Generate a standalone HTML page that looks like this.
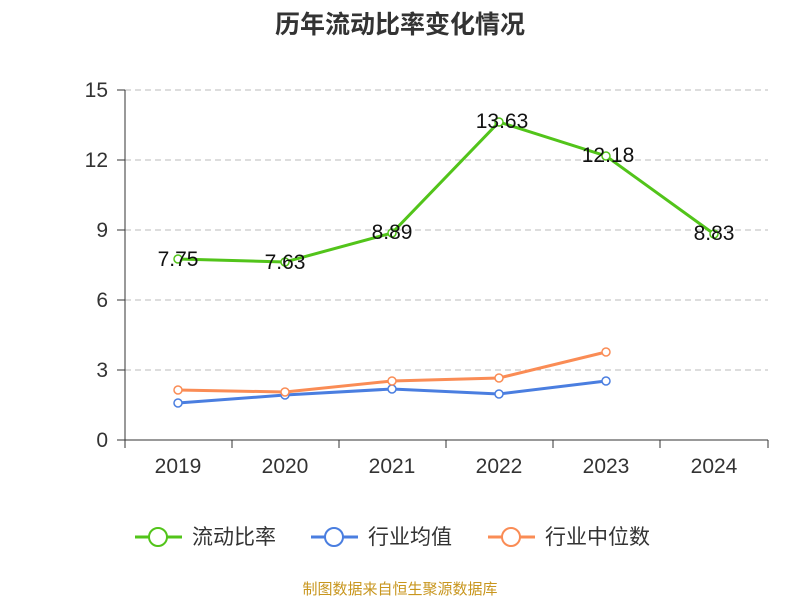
<!DOCTYPE html>
<html><head><meta charset="utf-8"><style>
body{margin:0;background:#fff;}
svg{display:block;font-family:"Liberation Sans","Noto Sans CJK SC",sans-serif;}
</style></head><body>
<svg width="800" height="600" viewBox="0 0 800 600">
<text x="400" y="33" text-anchor="middle" font-size="25" font-weight="bold" fill="#333">历年流动比率变化情况</text>
<g stroke="#bbb" stroke-dasharray="6,4" stroke-width="1">
<line x1="125" y1="90" x2="768" y2="90"/><line x1="125" y1="160" x2="768" y2="160"/>
<line x1="125" y1="230" x2="768" y2="230"/><line x1="125" y1="300" x2="768" y2="300"/>
<line x1="125" y1="370" x2="768" y2="370"/></g>
<g stroke="#333" stroke-width="1">
<line x1="125" y1="90" x2="125" y2="440"/><line x1="125" y1="440" x2="768" y2="440"/>
<line x1="117" y1="90" x2="125" y2="90"/><line x1="117" y1="160" x2="125" y2="160"/><line x1="117" y1="230" x2="125" y2="230"/><line x1="117" y1="300" x2="125" y2="300"/><line x1="117" y1="370" x2="125" y2="370"/><line x1="117" y1="440" x2="125" y2="440"/>
<line x1="125" y1="440" x2="125" y2="448"/><line x1="232" y1="440" x2="232" y2="448"/><line x1="339" y1="440" x2="339" y2="448"/><line x1="446" y1="440" x2="446" y2="448"/><line x1="553" y1="440" x2="553" y2="448"/><line x1="660" y1="440" x2="660" y2="448"/><line x1="768" y1="440" x2="768" y2="448"/>
</g>
<g font-size="21" fill="#333" text-anchor="end">
<text x="108" y="97">15</text><text x="108" y="167">12</text><text x="108" y="237">9</text><text x="108" y="307">6</text><text x="108" y="377">3</text><text x="108" y="447">0</text></g>
<g font-size="21" fill="#333" text-anchor="middle">
<text x="178" y="473">2019</text><text x="285" y="473">2020</text><text x="392" y="473">2021</text><text x="499" y="473">2022</text><text x="606" y="473">2023</text><text x="714" y="473">2024</text></g>
<polyline fill="none" stroke="#52c41a" stroke-width="3" points="178,259 285,262 392,233 499,122 606,156 714,234"/>
<polyline fill="none" stroke="#4a7ee0" stroke-width="3" points="178,403 285,395 392,389 499,394 606,381"/>
<polyline fill="none" stroke="#fa8c55" stroke-width="3" points="178,390 285,392 392,381 499,378 606,352"/>
<g fill="#fff" stroke-width="1.5">
<g stroke="#52c41a"><circle cx="178" cy="259" r="4"/><circle cx="285" cy="262" r="4"/><circle cx="392" cy="233" r="4"/><circle cx="499" cy="122" r="4"/><circle cx="606" cy="156" r="4"/><circle cx="714" cy="234" r="4"/></g>
<g stroke="#4a7ee0"><circle cx="178" cy="403" r="4"/><circle cx="285" cy="395" r="4"/><circle cx="392" cy="389" r="4"/><circle cx="499" cy="394" r="4"/><circle cx="606" cy="381" r="4"/></g>
<g stroke="#fa8c55"><circle cx="178" cy="390" r="4"/><circle cx="285" cy="392" r="4"/><circle cx="392" cy="381" r="4"/><circle cx="499" cy="378" r="4"/><circle cx="606" cy="352" r="4"/></g>
</g>
<g font-size="21" fill="#111" text-anchor="middle">
<text x="178" y="266">7.75</text><text x="285" y="269">7.63</text><text x="392" y="239">8.89</text><text x="502" y="128">13.63</text><text x="608" y="162">12.18</text><text x="714" y="240">8.83</text></g>
<g font-size="21" fill="#333">
<line x1="135" y1="537" x2="182" y2="537" stroke="#52c41a" stroke-width="3"/><circle cx="158" cy="537" r="9" fill="#fff" stroke="#52c41a" stroke-width="2"/><text x="192" y="544">流动比率</text>
<line x1="311" y1="537" x2="358" y2="537" stroke="#4a7ee0" stroke-width="3"/><circle cx="334" cy="537" r="9" fill="#fff" stroke="#4a7ee0" stroke-width="2"/><text x="368" y="544">行业均值</text>
<line x1="488" y1="537" x2="535" y2="537" stroke="#fa8c55" stroke-width="3"/><circle cx="511" cy="537" r="9" fill="#fff" stroke="#fa8c55" stroke-width="2"/><text x="545" y="544">行业中位数</text>
</g>
<text x="400" y="594" text-anchor="middle" font-size="15" fill="#c8961e">制图数据来自恒生聚源数据库</text>
</svg>
</body></html>
